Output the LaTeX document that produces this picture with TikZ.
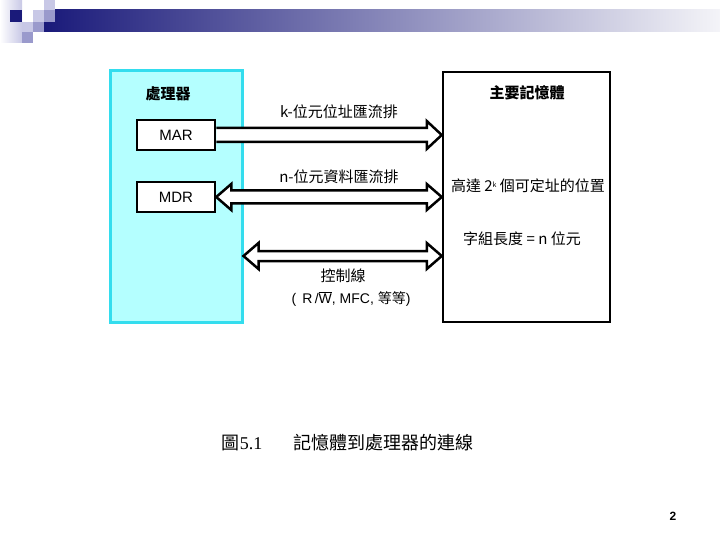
\documentclass[tikz,border=0pt]{standalone}
\usepackage{fontspec}
\setmainfont{Liberation Sans}
\newfontfamily\cjk{Noto Sans CJK TC}
\newfontfamily\serifrm{Liberation Serif}
\usetikzlibrary{calc}
\definecolor{cyanfill}{HTML}{B4FFFF}
\definecolor{cyanline}{HTML}{33DDEE}
\definecolor{navy}{HTML}{1A1A7A}
\definecolor{barend}{HTML}{F4F4F8}
\definecolor{lav}{HTML}{C8C8E6}
\definecolor{lavmid}{HTML}{9A9ACC}
\tikzset{
  regbox/.style={draw=black, line width=2.5pt, fill=white, inner sep=0pt, minimum width=78pt, minimum height=30pt, font=\fontsize{15}{15}\selectfont},
  hollow/.style={draw=black, line width=2.5pt, fill=white, line join=miter},
  lbl/.style={inner sep=0pt, font=\fontsize{15}{15}\selectfont\cjk},
}
\begin{document}
\begin{tikzpicture}[x=1pt,y=-1pt]
\useasboundingbox (0,0) rectangle (720,540);
% decoration
\shade[left color=white, right color=lav] (0,0) rectangle (22,43);
\shade[left color=navy, right color=barend] (44,10) rectangle (720,32);
\fill[navy] (10,10) rectangle (22,22);
\fill[lav] (33,10) rectangle (44,22);
\fill[lav] (44,0) rectangle (55,10);
\fill[lavmid] (44,10) rectangle (55,22);
\fill[lav] (22,22) rectangle (33,32);
\fill[lavmid] (33,22) rectangle (44,32);
\fill[lavmid] (22,32) rectangle (33,43);
% processor
\node[draw=cyanline, line width=3pt, fill=cyanfill, inner sep=0pt, minimum width=132pt, minimum height=251pt] (proc) at (176,196.5) {};
\node[inner sep=0pt, font=\fontsize{15}{15}\selectfont\cjk\bfseries] (proct) at (168,94) {處理器};
\node[regbox] (MAR) at (176,135) {MAR};
\node[regbox] (MDR) at (176,197) {MDR};
% memory
\node[draw=black, line width=2.5pt, fill=white, inner sep=0pt, minimum width=167pt, minimum height=250pt] (mem) at (526.5,197) {};
\node[inner sep=0pt, font=\fontsize{15}{15}\selectfont\cjk\bfseries] (memt) at (527,93) {主要記憶體};
% address bus
\coordinate (aT) at (mem.west |- MAR.east);
\draw[hollow] ($(MAR.east)+(0,-7)$) -- ($(aT)+(-15,-7)$) -- ($(aT)+(-15,-14)$) -- (aT) -- ($(aT)+(-15,14)$) -- ($(aT)+(-15,7)$) -- ($(MAR.east)+(0,7)$);
% data bus
\coordinate (dT) at (mem.west |- MDR.east);
\draw[hollow] (MDR.east) -- ($(MDR.east)+(15,-13)$) -- ($(MDR.east)+(15,-6.5)$) -- ($(dT)+(-15,-6.5)$) -- ($(dT)+(-15,-13)$) -- (dT) -- ($(dT)+(-15,13)$) -- ($(dT)+(-15,6.5)$) -- ($(MDR.east)+(15,6.5)$) -- ($(MDR.east)+(15,13)$) -- cycle;
% control bus
\coordinate (cL) at (proc.east |- 0,256);
\coordinate (cR) at (mem.west |- 0,256);
\draw[hollow] (cL) -- ($(cL)+(15,-13)$) -- ($(cL)+(15,-5)$) -- ($(cR)+(-15,-5)$) -- ($(cR)+(-15,-13)$) -- (cR) -- ($(cR)+(-15,13)$) -- ($(cR)+(-15,5)$) -- ($(cL)+(15,5)$) -- ($(cL)+(15,13)$) -- cycle;
% labels
\node[lbl] (kbus) at (339,112) {k-位元位址匯流排};
\node[lbl] (nbus) at (339,177) {n-位元資料匯流排};
\node[lbl] (addr) at (528,186) {高達 2\raisebox{4pt}{\fontsize{7}{7}\selectfont k} 個可定址的位置};
\node[lbl] (word) at (522,239) {字組長度 = n 位元};
\node[lbl] (ctl) at (343,276) {控制線};
\node[lbl, font=\fontsize{14}{14}\selectfont] (ctl2) at (351,299) {(\, R\,/$\overline{\mbox{W}}$, MFC, {\cjk 等等})};
% caption
\node[inner sep=0pt, font=\fontsize{18}{18}\selectfont] (fig) at (242,443) {{\cjk 圖}\serifrm 5.1};
\node[inner sep=0pt, font=\fontsize{18}{18}\selectfont\cjk] (cap) at (383,443) {記憶體到處理器的連線};
\node[inner sep=0pt, font=\fontsize{12}{12}\selectfont\bfseries] (pg) at (673,516) {2};
\end{tikzpicture}
\end{document}
